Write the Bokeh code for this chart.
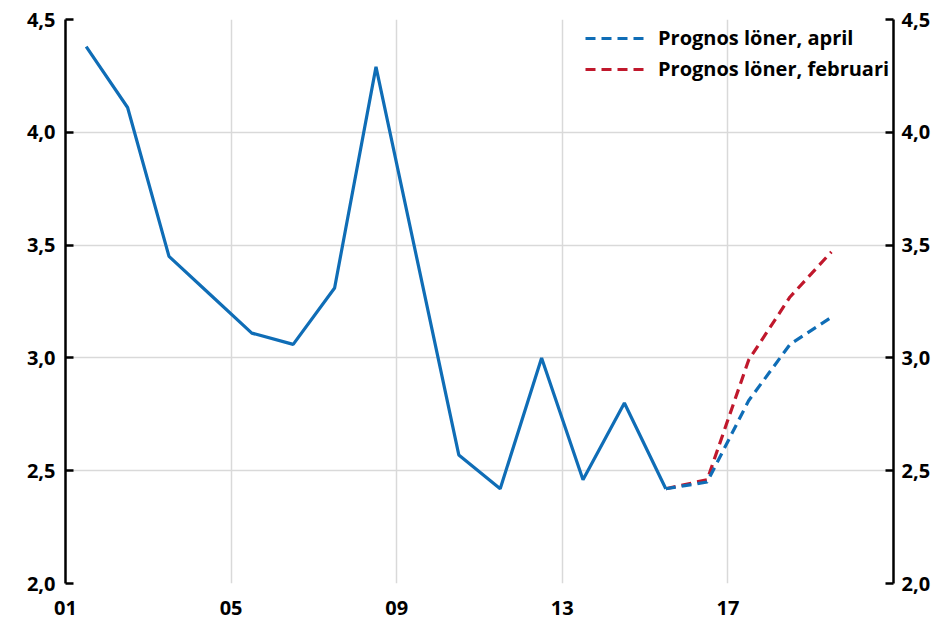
from bokeh.plotting import figure
from bokeh.models import (Range1d, LinearAxis, FixedTicker, CustomJSTickFormatter,
                          Legend, LegendItem)
from bokeh.embed import file_html
from bokeh.resources import INLINE

# Data
years_outcome = [2001.5, 2002.5, 2003.5, 2004.5, 2005.5, 2006.5, 2007.5, 2008.5,
                 2009.5, 2010.5, 2011.5, 2012.5, 2013.5, 2014.5, 2015.5]
outcome = [4.38, 4.11, 3.45, 3.28, 3.11, 3.06, 3.31, 4.29,
           3.43, 2.57, 2.42, 3.00, 2.46, 2.80, 2.42]
years_forecast = [2015.5, 2016.5, 2017.5, 2018.5, 2019.5]
forecast_april = [2.42, 2.45, 2.81, 3.06, 3.18]
forecast_feb = [2.42, 2.46, 2.99, 3.27, 3.47]
x_ticks = [2001, 2005, 2009, 2013, 2017]
x_tick_labels = ["01", "05", "09", "13", "17"]
y_ticks = [2.0, 2.5, 3.0, 3.5, 4.0, 4.5]
legend_labels = ["Prognos löner, april", "Prognos löner, februari"]

BLUE = "#0F6DB6"
RED = "#C0182C"
FONT = "Open Sans"

p = figure(width=945, height=621, output_backend="svg", toolbar_location=None,
           x_range=Range1d(2001, 2021), y_range=Range1d(2.0, 4.5),
           min_border_left=65, min_border_right=52, min_border_top=19,
           min_border_bottom=38)
p.outline_line_color = None
p.background_fill_color = "white"

fmt = CustomJSTickFormatter(code="return tick.toFixed(1).replace('.', ',');")

def style_y(ax, standoff):
    ax.ticker = FixedTicker(ticks=y_ticks)
    ax.formatter = fmt
    ax.axis_line_color = "black"
    ax.axis_line_width = 2.5
    ax.major_tick_line_color = "black"
    ax.major_tick_line_width = 2.5
    ax.major_tick_in = 8
    ax.major_tick_out = 0
    ax.minor_tick_line_color = None
    ax.major_label_text_font = FONT
    ax.major_label_text_font_style = "bold"
    ax.major_label_text_font_size = "20px"
    ax.major_label_text_color = "black"
    ax.major_label_standoff = standoff

style_y(p.yaxis[0], 10)
right = LinearAxis()
style_y(right, 8)
p.add_layout(right, "right")

xa = p.xaxis[0]
xa.ticker = FixedTicker(ticks=x_ticks)
xa.major_label_overrides = {t: l for t, l in zip(x_ticks, x_tick_labels)}
xa.axis_line_color = None
xa.major_tick_line_color = None
xa.minor_tick_line_color = None
xa.major_label_text_font = FONT
xa.major_label_text_font_style = "bold"
xa.major_label_text_font_size = "20px"
xa.major_label_text_color = "black"
xa.major_label_standoff = 11

p.xgrid.ticker = FixedTicker(ticks=x_ticks)
p.ygrid.ticker = FixedTicker(ticks=y_ticks)
for g in (p.xgrid[0], p.ygrid[0]):
    g.grid_line_color = "#D9D9D9"
    g.grid_line_width = 1.5

r_feb = p.line(years_forecast, forecast_feb, line_color=RED, line_width=3.2,
               line_dash="10 6")
r_apr = p.line(years_forecast, forecast_april, line_color=BLUE, line_width=3.2,
               line_dash="10 6")
p.line(years_outcome, outcome, line_color=BLUE, line_width=3.2)

legend = Legend(items=[LegendItem(label=legend_labels[0], renderers=[r_apr]),
                       LegendItem(label=legend_labels[1], renderers=[r_feb])],
                location=(520, 501))
legend.border_line_color = None
legend.background_fill_alpha = 0
legend.label_text_font = FONT
legend.label_text_font_style = "bold"
legend.label_text_font_size = "20px"
legend.label_text_color = "black"
legend.glyph_width = 63
legend.glyph_height = 24
legend.label_height = 24
legend.spacing = 4
legend.margin = 0
legend.padding = 0
legend.label_standoff = 10
p.add_layout(legend, "center")

open("out.html", "w").write(file_html(p, INLINE))
